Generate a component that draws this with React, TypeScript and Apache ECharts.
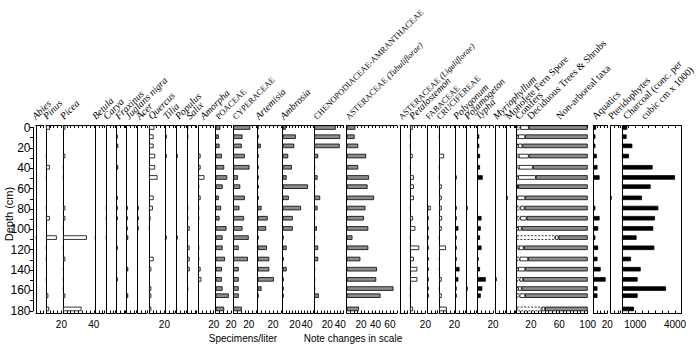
import { useEffect, useRef } from 'react';
import * as echarts from 'echarts';

// ---- data (specimens/liter unless noted), one value per sample depth ----
const DEPTHS = [0, 9, 18, 28, 39, 49, 58, 69, 79, 89, 99, 108, 118, 129, 139, 149, 158, 165, 178];
const DEPTH_LABELS = [0, 20, 40, 60, 80, 100, 120, 140, 160, 180];

const abies = [0, 0, 0, 0, 0, 0, 0, 0, 0, 0, 0, 1, 0, 0, 0, 0, 0, 0, 0];
const pinus = [5, 0, 0, 1, 5, 1, 0, 0, 1, 5, 0, 14, 1, 1, 0, 1, 0, 3, 4];
const picea = [3, 0, 0, 3, 1, 1, 0, 0, 3, 3, 1, 31, 1, 3, 1, 1, 1, 3, 24];
const betula = [0, 0, 0, 0, 0, 0, 0, 0, 0, 0, 0, 1, 0, 0, 0, 0, 0, 0, 0];
const carya = [0, 0, 0, 0, 0, 0, 0, 0, 1, 1, 0, 1, 0, 0, 0, 0, 0, 0, 0];
const fraxinus = [0, 1, 2, 0, 2, 0, 0, 1, 1, 1, 0, 0, 1, 0, 0, 1, 0, 0, 0];
const juglansNigra = [0, 0, 0, 0, 0, 0, 0, 0, 1, 1, 1, 2, 0, 0, 2, 0, 0, 2, 0];
const acer = [0, 0, 0, 0, 0, 0, 0, 0, 1, 1, 1, 0, 0, 0, 0, 0, 0, 0, 0];
const quercus = [7, 6, 6, 8, 8, 11, 0, 6, 5, 2, 1, 0, 0, 6, 3, 0, 3, 3, 3];
const tilia = [0, 1, 0, 1, 0, 0, 0, 0, 0, 0, 0, 1, 0, 0, 0, 0, 0, 0, 0];
const populus = [0, 0, 0, 1, 0, 0, 0, 0, 0, 0, 0, 1, 0, 0, 0, 0, 0, 0, 0];
const salix = [1, 1, 0, 0, 0, 0, 0, 0, 1, 1, 3, 0, 3, 3, 3, 0, 1, 0, 0];
const amorpha = [0, 0, 0, 3, 3, 8, 1, 3, 1, 1, 0, 0, 1, 1, 3, 4, 0, 0, 0];
const poaceae = [6, 4, 5, 8, 11, 15, 9, 4, 7, 5, 14, 9, 9, 12, 8, 8, 9, 17, 11];
const cyperaceae = [22, 12, 11, 15, 21, 6, 9, 15, 8, 14, 12, 20, 7, 19, 7, 7, 7, 7, 11];
const artemisia = [1, 1, 4, 1, 1, 1, 1, 1, 5, 13, 11, 1, 12, 15, 15, 21, 5, 1, 0];
const ambrosia = [5, 21.5, 19, 9, 15, 6.5, 41.5, 10, 30, 16.5, 16.5, 1.3, 6.5, 1.3, 6.5, 1.3, 1.3, 1.3, 0];
const chenoAmaranth = [33, 40, 39, 6, 1, 5, 1, 9, 5, 1, 4, 1, 6, 6, 1, 1, 1, 7, 0];
const asterTubuliflorae = [12, 11, 16, 27, 16, 31, 29, 38, 26, 24, 30, 8, 30, 19, 42, 41, 65, 47, 17];
const asterLiguliflorae = [0, 0, 0, 0, 0, 0, 0, 0, 0, 0, 0, 0, 0, 0, 0, 0, 0, 0, 0];
const petalostemon = [3.5, 1, 1, 3.5, 1, 5, 5, 5, 1, 4, 7, 1, 12, 5, 9.5, 9.5, 1, 1, 4];
const fabaceae = [0, 0, 0, 0, 0, 0, 0, 0, 4, 1, 1, 1, 1, 1, 1, 1, 1, 1, 0];
const crucifereae = [1, 1, 0, 6.5, 1, 1, 3.5, 3.5, 3.5, 4, 3.5, 1, 9, 1, 1, 3.5, 1, 3.5, 10];
const polygonum = [0, 0, 0, 0, 0, 1, 0, 0, 1, 1, 3.5, 1, 1, 1, 5, 3.5, 1, 1, 0];
const potamogeton = [0, 0, 0, 0, 0, 0, 0, 0, 1, 0, 0, 0, 0, 0, 0, 0, 1, 0, 0];
const typha = [0, 2, 2, 3, 3, 6.5, 0, 0, 0, 5, 4, 3, 5, 1, 3, 10.5, 6, 4, 0];
const myriophyllum = [0, 0, 0, 0, 0, 0, 0, 0, 0, 0, 0, 0, 0, 0, 0, 1, 0, 0, 0];
const monolete = [0, 0, 0, 0, 0, 0, 0, 1, 0, 0, 0, 0, 0, 0, 0, 0, 0, 0, 0];
// percentages
const conifers = [5, 2, 2, 3, 3, 2, 1, 1, 5, 5, 2, 54, 3, 4, 2, 4, 2, 4, 35];
const deciduous = [12, 10, 6, 14, 20, 25, 1, 11, 6, 9, 5, 5, 7, 12, 10, 5, 5, 8, 5];
const nonArboreal = [83, 88, 92, 83, 77, 73, 98, 88, 89, 86, 93, 41, 90, 84, 88, 91, 93, 88, 60];
const aquatics = [4, 3, 3, 5, 6, 9, 0, 0, 3, 9, 7, 3, 7, 6, 10.5, 17.6, 6, 6, 0];
const pteridophytes = [0, 0, 0, 0, 0, 0, 0, 1, 0, 0, 0, 0, 0, 0, 0, 0, 0, 0, 0];
// charcoal, conc. per cubic cm x 1000
const charcoal = [400, 350, 780, 530, 2310, 4000, 2160, 1510, 2740, 2490, 2360, 1100, 2440, 680, 1410, 1180, 3320, 1180, 905];

// ---- layout / style ----
type Fill = 'open' | 'grey' | 'black' | 'dashed';
type Layer = { values: number[]; fill: Fill };
type Panel = {
  title: string; rich?: boolean; italic: boolean; tx: number; fs: number; layers: Layer[];
  left: number; max: number; scale: number; step: number; labels: number[];
};
const K = 0.77;
const P = (title: string, italic: boolean, tx: number, values: number[], fill: Fill,
  left: number, max: number, labels: number[] = [], scale = K, step = 5): Panel =>
  ({ title, italic, tx, fs: /[A-Z]{3}/.test(title) ? 8.5 : 10, layers: [{ values, fill }], left, max, scale, step, labels });

const panels: Panel[] = [
  P('Abies', true, 37, abies, 'open', 36, 10),
  P('Pinus', true, 48, pinus, 'open', 46, 20, [20]),
  P('Picea', true, 65, picea, 'open', 63, 40, [40]),
  P('Betula', true, 97, betula, 'open', 95, 12),
  P('Carya', true, 108, carya, 'open', 106, 12),
  P('Fraxinus', true, 120, fraxinus, 'open', 116.7, 11),
  P('Juglans nigra', true, 130, juglansNigra, 'open', 126.7, 12),
  P('Acer', true, 141, acer, 'open', 137.7, 12),
  P('Quercus', true, 153, quercus, 'open', 149, 20, [20]),
  P('Tilia', true, 168, tilia, 'open', 165.7, 12),
  P('Populus', true, 180, populus, 'open', 176.7, 12),
  P('Salix', true, 191, salix, 'open', 187.3, 12),
  P('Amorpha', true, 205, amorpha, 'open', 198.3, 20, [20]),
  P('POACEAE', false, 220, poaceae, 'grey', 215.7, 20, [20]),
  P('CYPERACEAE', false, 237, cyperaceae, 'grey', 233.3, 30, [20]),
  P('Artemisia', true, 260, artemisia, 'grey', 257.7, 30, [20]),
  P('Ambrosia', true, 285, ambrosia, 'grey', 282.7, 50, [20, 40], 0.61),
  P('CHENOPODIACEAE-AMRANTHACEAE', false, 318, chenoAmaranth, 'grey', 314.3, 45, [20, 40], 0.65),
  { ...P('ASTERACEAE {i|(Tubuliflorae)}', false, 350, asterTubuliflorae, 'grey', 346.7, 70, [20, 40, 60], 0.72), rich: true },
  { ...P('ASTERACEAE {i|(Liguliflorae)}', false, 403, asterLiguliflorae, 'grey', 400, 10), rich: true },
  P('Petalostemon', true, 414, petalostemon, 'open', 410, 20, [20]),
  P('FABACEAE', false, 430, fabaceae, 'open', 427.7, 12),
  P('CRUCIFEREAE', false, 441, crucifereae, 'open', 439, 20, [20]),
  P('Polygonum', true, 458, polygonum, 'black', 455.7, 12),
  P('Potamogeton', true, 469, potamogeton, 'black', 466.7, 12),
  P('Typha', true, 480, typha, 'black', 477.7, 20, [20]),
  P('Myriophyllum', true, 498, myriophyllum, 'black', 495.7, 12),
  P('Monolete Fern Spore', false, 510, monolete, 'open', 506.7, 11),
  {
    title: '', italic: false, tx: 0, fs: 10, left: 516.7, max: 100, scale: 0.71, step: 5, labels: [20, 60, 100],
    layers: [{ values: conifers, fill: 'dashed' }, { values: deciduous, fill: 'open' }, { values: nonArboreal, fill: 'grey' }],
  },
  P('Aquatics', false, 597, aquatics, 'black', 593.3, 20, [20], 0.7),
  P('Pteridophytes', false, 613, pteridophytes, 'black', 610.7, 12),
  P('', false, 0, charcoal, 'black', 622, 4500, [1000, 4000], 0.01325, 500),
];

const extraTitles: { text: string; x: number; y: number }[] = [
  { text: 'Conifers', x: 520, y: 121 },
  { text: 'Deciduous Trees & Shrubs', x: 532, y: 121 },
  { text: 'Non-arboreal taxa', x: 561, y: 121 },
  { text: 'Charcoal (conc. per', x: 628, y: 121 },
  { text: 'cubic cm x 1000)', x: 646, y: 121 },
];

const FILLS: Record<Fill, string> = { open: '#ffffff', dashed: '#ffffff', grey: '#8c8c8c', black: '#000000' };
const GRID_TOP = 125.5;
const GRID_H = 187.5;
const cats: string[] = [];
for (let d = -2; d <= 182; d++) cats.push(String(d));

function seriesData(values: number[]) {
  const m = new Map<number, number>();
  DEPTHS.forEach((d, i) => { if (values[i] > 0) m.set(d, values[i]); });
  return cats.map((c) => (m.has(+c) ? (m.get(+c) as number) : '-'));
}

function buildOption() {
  const grid: any[] = [];
  const xAxis: any[] = [];
  const yAxis: any[] = [];
  const series: any[] = [];
  const graphic: any[] = [];
  const sans = 'Liberation Sans';

  panels.forEach((p, i) => {
    grid.push({ left: p.left, top: GRID_TOP, width: p.max * p.scale, height: GRID_H });
    const base = {
      type: 'value', gridIndex: i, min: 0, max: p.max, interval: p.step,
      axisLine: { show: true, onZero: false, lineStyle: { color: '#000', width: 1 } },
      axisTick: { show: true, inside: true, length: 2.5, lineStyle: { color: '#000', width: 1 } },
      splitLine: { show: false },
    };
    xAxis.push({
      ...base, position: 'bottom',
      axisLabel: {
        show: p.labels.length > 0, margin: 6, fontSize: 10, fontFamily: sans, color: '#000',
        hideOverlap: false, showMinLabel: true, showMaxLabel: true,
        formatter: (v: number) => (p.labels.includes(v) ? String(v) : ''),
      },
    });
    xAxis.push({ ...base, position: 'top', axisLabel: { show: false } });
    yAxis.push({
      type: 'category', gridIndex: i, data: cats, inverse: true, boundaryGap: false,
      axisLine: { show: true, onZero: false, lineStyle: { color: '#000', width: 1 } },
      axisTick: { show: false }, axisLabel: { show: false }, splitLine: { show: false },
    });
    p.layers.forEach((l) => {
      series.push({
        type: 'bar', xAxisIndex: 2 * i, yAxisIndex: yAxis.length - 1, stack: 'p' + i,
        barWidth: 4.5, data: seriesData(l.values), silent: true,
        itemStyle: {
          color: FILLS[l.fill], borderColor: '#000', borderWidth: 0.8,
          borderType: l.fill === 'dashed' ? [2, 1.5] : 'solid',
        },
      });
    });
    if (p.title) {
      graphic.push({
        type: 'text', x: p.tx, y: 121, rotation: Math.PI / 4, silent: true,
        style: {
          text: p.title, fill: '#000', fontFamily: 'Liberation Serif', fontSize: p.fs,
          fontStyle: p.italic ? 'italic' : 'normal',
          align: 'left', verticalAlign: 'bottom', textAlign: 'left', textVerticalAlign: 'bottom',
          rich: p.rich ? { i: { fontStyle: 'italic', fontFamily: 'Liberation Serif', fontSize: p.fs } } : undefined,
        },
      });
    }
  });

  // right frame line of charcoal panel
  const ci = panels.length - 1;
  yAxis.push({
    type: 'category', gridIndex: ci, data: cats, inverse: true, position: 'right', boundaryGap: false,
    axisLine: { show: true, onZero: false, lineStyle: { color: '#000', width: 1 } },
    axisTick: { show: false }, axisLabel: { show: false }, splitLine: { show: false },
  });

  // depth axis
  const di = panels.length;
  grid.push({ left: 33, top: 127.5, width: 1, height: 183.3 });
  xAxis.push({ type: 'value', gridIndex: di, show: false, min: 0, max: 1 });
  yAxis.push({
    type: 'value', gridIndex: di, min: 0, max: 180, interval: 10, inverse: true, position: 'left',
    axisLine: { show: true, lineStyle: { color: '#000', width: 1 } },
    axisTick: { show: true, length: 3, lineStyle: { color: '#000' } },
    axisLabel: {
      margin: 2.5, fontSize: 12, fontFamily: sans, color: '#000',
      formatter: (v: number) => (DEPTH_LABELS.includes(v) ? String(v) : ''),
    },
    splitLine: { show: false },
  });

  extraTitles.forEach((t) => {
    graphic.push({
      type: 'text', x: t.x, y: t.y, rotation: Math.PI / 4, silent: true,
      style: {
        text: t.text, fill: '#000', fontFamily: 'Liberation Serif', fontSize: 10,
        align: 'left', verticalAlign: 'bottom', textAlign: 'left', textVerticalAlign: 'bottom',
      },
    });
  });
  graphic.push({
    type: 'text', x: 9, y: 214, rotation: Math.PI / 2, silent: true,
    style: { text: 'Depth (cm)', fill: '#000', fontFamily: sans, fontSize: 11, align: 'center', verticalAlign: 'middle', textAlign: 'center', textVerticalAlign: 'middle' },
  });
  graphic.push({
    type: 'text', x: 243, y: 338, silent: true,
    style: { text: 'Specimens/liter', fill: '#000', fontFamily: sans, fontSize: 10, align: 'center', verticalAlign: 'middle', textAlign: 'center', textVerticalAlign: 'middle' },
  });
  graphic.push({
    type: 'text', x: 353, y: 338, silent: true,
    style: { text: 'Note changes in scale', fill: '#000', fontFamily: sans, fontSize: 10, align: 'center', verticalAlign: 'middle', textAlign: 'center', textVerticalAlign: 'middle' },
  });

  return { animation: false, backgroundColor: '#fff', grid, xAxis, yAxis, series, graphic };
}

export default function App() {
  const ref = useRef<HTMLDivElement>(null);
  useEffect(() => {
    if (!ref.current) return;
    const chart = echarts.init(ref.current, undefined, { renderer: 'svg' });
    chart.setOption(buildOption() as any);
    return () => chart.dispose();
  }, []);
  return <div ref={ref} style={{ position: 'absolute', left: 0, top: 0, width: 700, height: 351 }} />;
}
